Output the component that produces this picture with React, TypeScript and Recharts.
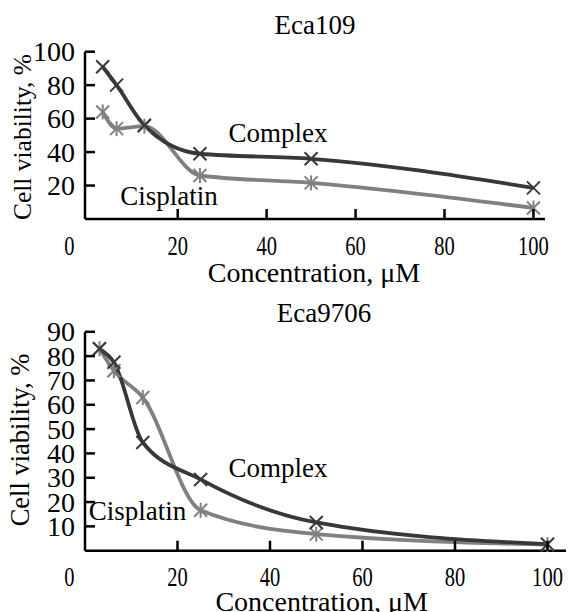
import React from 'react';
import { LineChart, Line, XAxis, YAxis } from 'recharts';

// concentrations, µM
const concentrations = [3.125, 6.25, 12.5, 25, 50, 100];

// Eca109
const eca109Complex = [91, 80, 56, 39, 36, 18.6];
const eca109Cisplatin = [64, 54, 55.5, 26, 21.6, 6.6];

// Eca9706
const eca9706Complex = [83, 77.5, 44.5, 29.3, 11.6, 2.7];
const eca9706Cisplatin = [83, 74, 63, 16.6, 6.8, 2.5];

const xTicks = [0, 20, 40, 60, 80, 100];
const eca109YTicks = [20, 40, 60, 80, 100];
const eca9706YTicks = [10, 20, 30, 40, 50, 60, 70, 80, 90];

const FONT = '"Liberation Serif", "Times New Roman", serif';
const COMPLEX_COLOR = '#383838';
const CISPLATIN_COLOR = '#808080';

const toRows = (complex: number[], cisplatin: number[]) =>
  concentrations.map((c, i) => ({ c, complex: complex[i], cisplatin: cisplatin[i] }));

const XTick = (props: any) => {
  const { x, y, payload, labelDy } = props;
  const isZero = payload.value === 0;
  const tx = isZero ? 69.3 : x;
  return (
    <g>
      {!isZero && <line x1={x} x2={x} y1={y} y2={y - 10} stroke="#000" strokeWidth={2.5} />}
      <text
        transform={`translate(${tx},${y + labelDy}) scale(0.76,1)`}
        textAnchor="middle"
        dominantBaseline="central"
        fontSize={27}
        fontFamily={FONT}
        fill="#000"
      >
        {payload.value}
      </text>
    </g>
  );
};

const YTick = (props: any) => {
  const { x, y, payload } = props;
  return (
    <g>
      <line x1={x} x2={x + 10} y1={y} y2={y} stroke="#000" strokeWidth={2.5} />
      <text
        x={x - 10}
        y={y}
        textAnchor="end"
        dominantBaseline="central"
        fontSize={28}
        fontFamily={FONT}
        fill="#000"
      >
        {payload.value}
      </text>
    </g>
  );
};

const CrossMark = (props: any) => {
  const { cx, cy } = props;
  if (cx == null || cy == null) return null;
  const r = 6.5;
  return (
    <g stroke={COMPLEX_COLOR} strokeWidth={2}>
      <line x1={cx - r} y1={cy - r} x2={cx + r} y2={cy + r} />
      <line x1={cx - r} y1={cy + r} x2={cx + r} y2={cy - r} />
    </g>
  );
};

const StarMark = (props: any) => {
  const { cx, cy } = props;
  if (cx == null || cy == null) return null;
  const r = 6.5;
  return (
    <g stroke={CISPLATIN_COLOR} strokeWidth={2}>
      <line x1={cx - r} y1={cy - r} x2={cx + r} y2={cy + r} />
      <line x1={cx - r} y1={cy + r} x2={cx + r} y2={cy - r} />
      <line x1={cx} y1={cy - r - 1} x2={cx} y2={cy + r + 1} />
    </g>
  );
};

const txt = (x: number, y: number, s: string, size: number, extra: any = {}) => (
  <text
    x={x}
    y={y}
    textAnchor="middle"
    dominantBaseline="central"
    fontSize={size}
    fontFamily={FONT}
    fill="#000"
    {...extra}
  >
    {s}
  </text>
);

interface PanelProps {
  title: string;
  rows: any[];
  height: number;
  margin: { top: number; right: number; bottom: number; left: number };
  xDomain: [number, number];
  yDomain: [number, number];
  yTicks: number[];
  labelDy: number;
  titlePos: [number, number];
  xLabelPos: [number, number];
  yLabelPos: [number, number];
  yLabelSize: number;
  complexPos: [number, number];
  cisplatinPos: [number, number];
}

const Panel = (p: PanelProps) => (
  <LineChart width={569} height={p.height} data={p.rows} margin={p.margin} style={{ display: 'block' }}>
    <XAxis
      type="number"
      dataKey="c"
      domain={p.xDomain}
      ticks={xTicks}
      interval={0}
      tickSize={0}
      tickMargin={0}
      tickLine={false}
      axisLine={{ stroke: '#000', strokeWidth: 2.5 }}
      tick={(t: any) => <XTick {...t} labelDy={p.labelDy} />}
      height={40}
      allowDataOverflow
    />
    <YAxis
      type="number"
      domain={p.yDomain}
      ticks={p.yTicks}
      interval={0}
      tickSize={0}
      tickMargin={0}
      tickLine={false}
      axisLine={{ stroke: '#000', strokeWidth: 2.5 }}
      tick={(t: any) => <YTick {...t} />}
      width={85}
    />
    <Line
      type="monotone"
      dataKey="cisplatin"
      stroke={CISPLATIN_COLOR}
      strokeWidth={3.8}
      dot={(d: any) => <StarMark key={`s${d.index}`} {...d} />}
      isAnimationActive={false}
    />
    <Line
      type="monotone"
      dataKey="complex"
      stroke={COMPLEX_COLOR}
      strokeWidth={3.8}
      dot={(d: any) => <CrossMark key={`c${d.index}`} {...d} />}
      isAnimationActive={false}
    />
    {txt(p.titlePos[0], p.titlePos[1], p.title, 27)}
    {txt(p.xLabelPos[0], p.xLabelPos[1], 'Concentration, μM', 28)}
    {txt(p.yLabelPos[0], p.yLabelPos[1], 'Cell viability, %', p.yLabelSize, {
      transform: `rotate(-90, ${p.yLabelPos[0]}, ${p.yLabelPos[1]})`,
    })}
    {txt(p.complexPos[0], p.complexPos[1], 'Complex', 27)}
    {txt(p.cisplatinPos[0], p.cisplatinPos[1], 'Cisplatin', 27)}
  </LineChart>
);

export default function App() {
  return (
    <div style={{ position: 'absolute', left: 0, top: 0, width: 569, height: 612, background: '#fff' }}>
      <Panel
        title="Eca109"
        rows={toRows(eca109Complex, eca109Cisplatin)}
        height={290}
        margin={{ top: 51.7, right: 24, bottom: 31, left: 0 }}
        xDomain={[-0.85, 102.6]}
        yDomain={[0, 100]}
        yTicks={eca109YTicks}
        labelDy={26.9}
        titlePos={[315, 25]}
        xLabelPos={[314, 272.5]}
        yLabelPos={[22, 137]}
        yLabelSize={25.5}
        complexPos={[278, 133]}
        cisplatinPos={[169, 196]}
      />
      <Panel
        title="Eca9706"
        rows={toRows(eca9706Complex, eca9706Cisplatin)}
        height={322}
        margin={{ top: 41.8, right: 3, bottom: 21.3, left: 0 }}
        xDomain={[0, 104]}
        yDomain={[0, 90]}
        yTicks={eca9706YTicks}
        labelDy={26.6}
        titlePos={[324, 23]}
        xLabelPos={[321.7, 311]}
        yLabelPos={[20, 150]}
        yLabelSize={26.5}
        complexPos={[278, 178]}
        cisplatinPos={[137.6, 221]}
      />
    </div>
  );
}
